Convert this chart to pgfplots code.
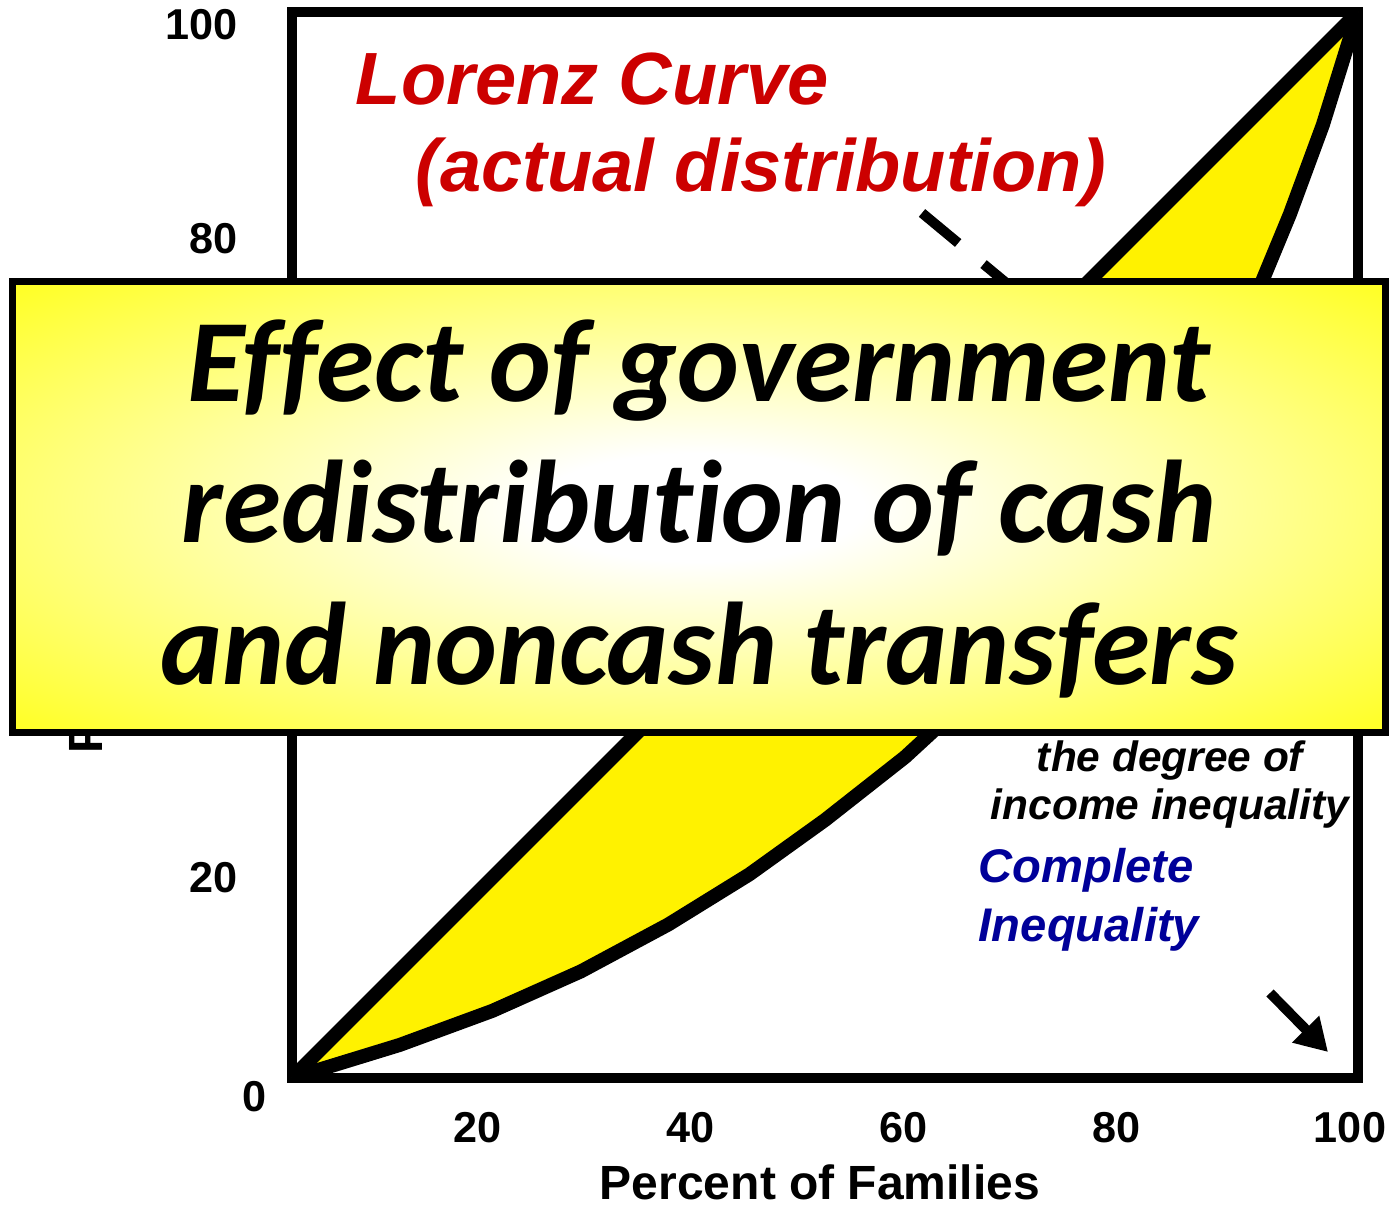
\documentclass[border=0pt]{standalone}
\usepackage{pgfplots}
\pgfplotsset{compat=1.18}
\usetikzlibrary{arrows.meta}
\usepackage{fontspec}
\setmainfont{Liberation Sans}
\newfontfamily\carlito[Ligatures=NoCommon]{Carlito}
\definecolor{lzred}{RGB}{204,0,0}
\definecolor{cblue}{RGB}{0,0,153}
\pgfdeclareradialshading{glow}{\pgfpointorigin}{color(0bp)=(white); color(6bp)=(white); color(40bp)=(yellow); color(50bp)=(yellow)}

\begin{document}
\begin{tikzpicture}
\useasboundingbox (-73pt,-32.25pt) rectangle (274.75pt,269.5pt);
\begin{axis}[
  at={(0pt,0pt)}, anchor=south west,
  width=266.5pt, height=266.5pt, scale only axis,
  xmin=0, xmax=100, ymin=0, ymax=100,
  axis line style={line width=2.5pt, line join=miter},
  major tick length=0pt,
  xtick={20,40,60,80}, ytick={20,40,60,80,100},
  extra x ticks={100}, extra y ticks={0},
  /pgf/number format/assume math mode=true,
  ticklabel style={font=\fontsize{10.8}{12}\selectfont\bfseries, inner sep=0pt},
  xticklabel style={anchor=north east, yshift=-8.5pt, xshift=-0.75pt},
  yticklabel style={anchor=east, xshift=-13.5pt, yshift=-3.25pt},
  extra x tick style={xticklabel style={anchor=north, xshift=-1.25pt}},
  extra y tick style={yticklabel style={xshift=7.25pt, yshift=-1.5pt}},
  xlabel={Percent of Families},
  ylabel={Percent of Income},
  xlabel style={font=\fontsize{12}{14}\selectfont\bfseries, at={(axis description cs:0.5,0)}, anchor=base, yshift=-30.5pt, xshift=-1.25pt, inner sep=0pt},
  ylabel style={font=\fontsize{12}{14}\selectfont\bfseries, at={(axis description cs:-0.1773,0.5)}, anchor=base, inner sep=0pt},
]
\addplot[fill=yellow, draw=none] coordinates {
 (0,0) (10.1,3.1) (18.8,6.3) (27.1,10.0) (35.3,14.4) (42.9,19.1) (50.0,24.2) (57.5,30.1)
 (65,37.0) (72,44.5) (79,53.5) (85,63.2) (90,72.3) (93.6,81.0) (96.7,89.4) (100,100)};
\addplot[black, line width=3.5pt] coordinates {(0,0) (100,100)};
\addplot[black, line width=3.5pt] coordinates {
 (0,0) (10.1,3.1) (18.8,6.3) (27.1,10.0) (35.3,14.4) (42.9,19.1) (50.0,24.2) (57.5,30.1)
 (65,37.0) (72,44.5) (79,53.5) (85,63.2) (90,72.3) (93.6,81.0) (96.7,89.4) (100,100)};
\end{axis}

\node[anchor=base west, text=lzred, font=\fontsize{18.5}{22}\selectfont\bfseries\itshape, inner sep=0pt] at (15.75pt,243.25pt) {Lorenz Curve};
\node[anchor=base west, text=lzred, font=\fontsize{18.5}{22}\selectfont\bfseries\itshape, inner sep=0pt] at (30.75pt,221.5pt) {(actual distribution)};
\draw[line width=2.5pt, dash pattern=on 11.75pt off 8.25pt] (157.5pt,216.25pt) -- (187pt,191.75pt);

\node[anchor=base, font=\fontsize{10.6}{13}\selectfont\bfseries\itshape, inner sep=0pt] at (219.5pt,76.5pt) {the degree of};
\node[anchor=base, font=\fontsize{10.6}{13}\selectfont\bfseries\itshape, inner sep=0pt] at (219.5pt,64.5pt) {income inequality};
\node[anchor=base west, text=cblue, font=\fontsize{11.8}{14}\selectfont\bfseries\itshape, inner sep=0pt] at (171.5pt,48.75pt) {Complete};
\node[anchor=base west, text=cblue, font=\fontsize{11.8}{14}\selectfont\bfseries\itshape, inner sep=0pt] at (171.5pt,34pt) {Inequality};
\draw[line width=2.5pt, -{Triangle[width=9pt,length=8pt]}] (244.5pt,21.25pt) -- (259pt,6.5pt);

\shade[shading=glow] (-69.75pt,86.25pt) rectangle (273.25pt,199pt);
\draw[line width=1.75pt] (-69.75pt,86.25pt) rectangle (273.25pt,199pt);
\node[anchor=base, font=\carlito\fontsize{29.4}{35}\selectfont\bfseries\itshape, inner sep=0pt] at (101.75pt,169pt) {Effect of government};
\node[anchor=base, font=\carlito\fontsize{29.4}{35}\selectfont\bfseries\itshape, inner sep=0pt] at (101.75pt,133.75pt) {redistribution of cash};
\node[anchor=base, font=\carlito\fontsize{29.4}{35}\selectfont\bfseries\itshape, inner sep=0pt] at (101.75pt,98.25pt) {and noncash transfers};
\end{tikzpicture}
\end{document}
